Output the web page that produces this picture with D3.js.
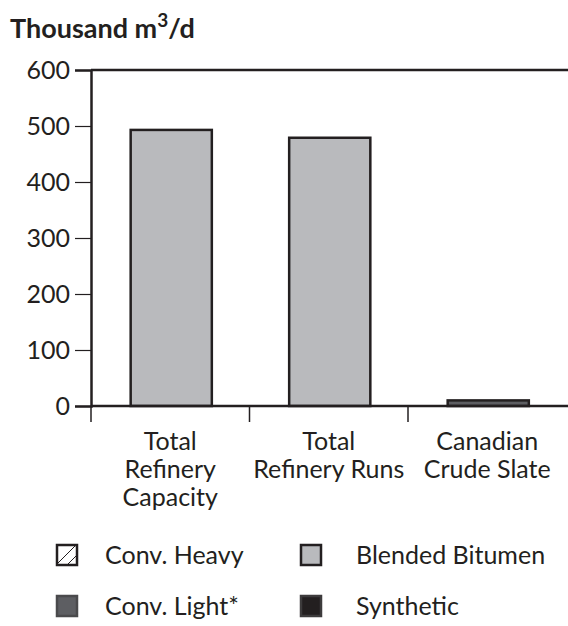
<!DOCTYPE html>
<html>
<head>
<meta charset="utf-8">
<script src="https://cdn.jsdelivr.net/npm/d3@7"></script>
<style>
  html, body { margin: 0; padding: 0; background: #fff; }
  svg { display: block; }
  text { font-family: "Lato", "Noto Sans", sans-serif; fill: #231f20; }
</style>
</head>
<body>
<svg id="chart" width="568" height="626"></svg>
<script>
// ---- data ----
const categories = ["Total Refinery Capacity", "Total Refinery Runs", "Canadian Crude Slate"];
const categoryLines = [["Total", "Refinery", "Capacity"], ["Total", "Refinery Runs"], ["Canadian", "Crude Slate"]];
const seriesNames = ["Conv. Heavy", "Blended Bitumen", "Conv. Light*", "Synthetic"];
const convHeavy = [0, 0, 0];
const blendedBitumen = [493, 479, 0];
const convLight = [0, 0, 10];
const synthetic = [0, 0, 0];
const yTicks = [0, 100, 200, 300, 400, 500, 600];
const yTitle = "Thousand m";

// ---- style ----
const fills = { "Conv. Heavy": "#ffffff", "Blended Bitumen": "#b9babd", "Conv. Light*": "#5d5e62", "Synthetic": "#231f20" };
const ink = "#231f20";

const svg = d3.select("#chart");
const mLeft = 91, mTop = 70, mBottom = 406;

const rows = categories.map((c, i) => ({
  cat: c,
  "Conv. Heavy": convHeavy[i],
  "Blended Bitumen": blendedBitumen[i],
  "Conv. Light*": convLight[i],
  "Synthetic": synthetic[i]
}));

const x = d3.scaleBand().domain(categories).range([mLeft, mLeft + 3 * 158.5]).padding(0);
const y = d3.scaleLinear().domain([0, 600]).range([mBottom, mTop]);

const stack = d3.stack().keys(seriesNames)(rows);

// top frame line
svg.append("line").attr("x1", mLeft).attr("x2", 568).attr("y1", y(600)).attr("y2", y(600))
  .attr("stroke", ink).attr("stroke-width", 2.5);

// bars
const barW = x.bandwidth() * 0.512;
stack.forEach(s => {
  svg.append("g").selectAll("rect")
    .data(s.filter(d => d[1] - d[0] > 0))
    .join("rect")
    .attr("x", d => x(d.data.cat) + (x.bandwidth() - barW) / 2 + 1)
    .attr("y", d => y(d[1]))
    .attr("width", barW)
    .attr("height", d => y(d[0]) - y(d[1]))
    .attr("fill", fills[s.key])
    .attr("stroke", ink)
    .attr("stroke-width", 2.5);
});

// y axis
const yAxis = d3.axisLeft(y).tickValues(yTicks).tickSize(16).tickPadding(5).tickFormat(d3.format("d"));
const gy = svg.append("g").attr("transform", `translate(${mLeft},0)`).call(yAxis);
gy.select(".domain").attr("stroke", ink).attr("stroke-width", 2.5);
gy.selectAll(".tick line").attr("stroke", ink).attr("stroke-width", 1.2);
gy.selectAll(".tick text").attr("font-size", 25).attr("font-family", "Lato").attr("fill", ink);

// x axis baseline
svg.append("line").attr("x1", mLeft).attr("x2", 568).attr("y1", mBottom).attr("y2", mBottom)
  .attr("stroke", ink).attr("stroke-width", 2.5);
// category boundary ticks
svg.append("g").selectAll("line").data(categories).join("line")
  .attr("x1", d => x(d)).attr("x2", d => x(d))
  .attr("y1", mBottom).attr("y2", mBottom + 16)
  .attr("stroke", ink).attr("stroke-width", 1.5);

// category labels
categories.forEach((c, i) => {
  const t = svg.append("text").attr("text-anchor", "middle").attr("font-size", 25);
  categoryLines[i].forEach((ln, j) => {
    t.append("tspan").attr("x", x(c) + x.bandwidth() / 2).attr("y", 450 + j * 28).text(ln);
  });
});

// title
const title = svg.append("text").attr("x", 10).attr("y", 38).attr("font-size", 27).attr("font-weight", "bold");
title.append("tspan").text(yTitle);
title.append("tspan").attr("dy", -11).attr("font-size", 19).text("3");
title.append("tspan").attr("dy", 11).text("/d");

// legend
const legendPos = [
  { name: "Conv. Heavy", bx: 57, tx: 105, cy: 555 },
  { name: "Blended Bitumen", bx: 301, tx: 356, cy: 555 },
  { name: "Conv. Light*", bx: 57, tx: 105, cy: 606 },
  { name: "Synthetic", bx: 301, tx: 356, cy: 606 }
];
const box = 20;
legendPos.forEach(l => {
  const g = svg.append("g");
  g.append("rect").attr("x", l.bx).attr("y", l.cy - box / 2).attr("width", box).attr("height", box)
    .attr("fill", fills[l.name]).attr("stroke", l.name === "Synthetic" ? "#3d3b3c" : (l.name === "Conv. Light*" ? "#4a4a4c" : ink))
    .attr("stroke-width", 2.5);
  if (l.name === "Conv. Heavy") {
    g.append("line").attr("x1", l.bx + 1).attr("y1", l.cy + box / 2 - 2).attr("x2", l.bx + box - 2).attr("y2", l.cy - box / 2 + 1)
      .attr("stroke", ink).attr("stroke-width", 1);
    g.append("line").attr("x1", l.bx + box - 9).attr("y1", l.cy + box / 2 - 1).attr("x2", l.bx + box - 1).attr("y2", l.cy + 1)
      .attr("stroke", ink).attr("stroke-width", 1);
  }
  g.append("text").attr("x", l.tx).attr("y", l.cy).attr("dy", "0.35em").attr("font-size", 25).text(l.name);
});
</script>
</body>
</html>
